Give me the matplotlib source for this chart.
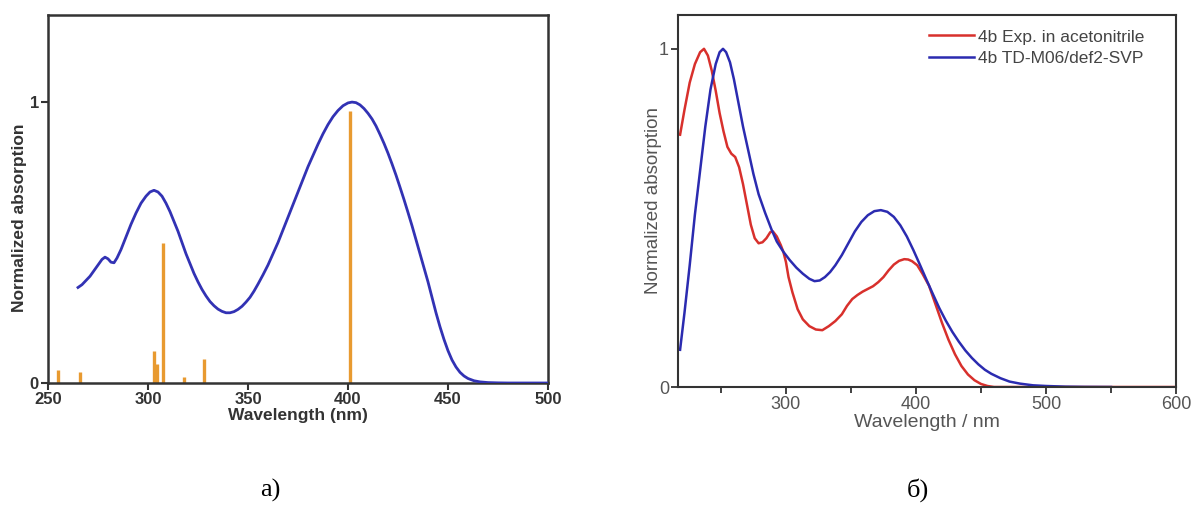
import matplotlib
matplotlib.use("Agg")
import matplotlib.pyplot as plt
from matplotlib.ticker import MultipleLocator

# ---------------- data: panel a ----------------
calc_a_wl = [265, 267, 269, 271, 273, 275, 277, 278.5, 280, 281.5, 283, 284.5, 286.5,
             289, 291.5, 294, 296.5, 299, 301, 303, 305, 307, 309, 311, 313, 315,
             317, 319, 321, 323, 325, 327, 329, 331, 333, 335, 337, 339, 341, 343,
             345, 347, 349, 351, 353, 355, 357.5, 360, 362.5, 365, 367.5, 370, 372.5,
             375, 377.5, 380, 382.5, 385, 387.5, 390, 392.5, 395, 397.5, 400, 402,
             404, 406, 408, 410, 412, 414, 416, 418, 420, 422, 424, 426, 428, 430,
             432, 434, 436, 438, 440, 442, 444, 446, 448, 450, 452, 454, 456, 458,
             460, 463, 466, 470, 475, 480, 500]
calc_a_abs = [0.34, 0.35, 0.365, 0.38, 0.40, 0.42, 0.44, 0.448, 0.442, 0.43, 0.428,
              0.445, 0.475, 0.52, 0.565, 0.605, 0.64, 0.665, 0.68, 0.686, 0.68,
              0.665, 0.64, 0.61, 0.575, 0.54, 0.50, 0.46, 0.425, 0.39, 0.36, 0.333,
              0.31, 0.29, 0.275, 0.263, 0.255, 0.25, 0.25, 0.254, 0.262, 0.273,
              0.288, 0.305, 0.327, 0.352, 0.385, 0.42, 0.46, 0.50, 0.545, 0.59,
              0.635, 0.68, 0.725, 0.77, 0.81, 0.85, 0.887, 0.92, 0.948, 0.97, 0.987,
              0.997, 1.0, 0.998, 0.99, 0.977, 0.96, 0.94, 0.915, 0.885, 0.853, 0.818,
              0.78, 0.74, 0.697, 0.653, 0.607, 0.56, 0.51, 0.46, 0.41, 0.36, 0.305,
              0.25, 0.20, 0.155, 0.115, 0.082, 0.057, 0.038, 0.025, 0.016, 0.008,
              0.004, 0.0015, 0.0005, 0.0, 0.0]
stick_wl = [255, 266, 303, 304.5, 307.5, 318, 328, 401]
stick_f = [0.045, 0.04, 0.114, 0.068, 0.50, 0.02, 0.085, 0.968]

# ---------------- data: panel b ----------------
exp_wl = [218.6, 222, 226, 230, 234, 237, 240, 243, 246, 249, 252, 255, 258, 261,
          264, 267, 270, 273, 276, 279, 282, 285, 288, 290, 293, 296, 298, 300, 302,
          305, 309, 313, 318, 323, 328, 333, 338, 343, 347, 351, 355, 359, 363, 367,
          371, 375, 379, 383, 387, 391, 394, 397, 401, 405, 410, 415, 420, 425, 430,
          435, 440, 445, 450, 455, 460, 600]
exp_abs = [0.746, 0.82, 0.90, 0.955, 0.99, 1.0, 0.98, 0.935, 0.876, 0.81, 0.756,
           0.71, 0.69, 0.68, 0.65, 0.60, 0.54, 0.48, 0.44, 0.425, 0.428, 0.44, 0.458,
           0.46, 0.445, 0.42, 0.40, 0.37, 0.325, 0.28, 0.23, 0.20, 0.18, 0.17, 0.168,
           0.18, 0.195, 0.215, 0.24, 0.26, 0.272, 0.282, 0.29, 0.298, 0.31, 0.325,
           0.345, 0.362, 0.373, 0.378, 0.377, 0.372, 0.36, 0.335, 0.30, 0.245, 0.19,
           0.14, 0.097, 0.062, 0.037, 0.02, 0.009, 0.003, 0.0, 0.0]
td_wl = [218.6, 222, 226, 230, 234, 238, 242, 246, 249, 251.6, 254, 257, 260, 263,
         267, 271, 275, 279, 284, 289, 293, 298, 303, 308, 313, 318, 322, 326, 330,
         334, 338, 343, 348, 353, 358, 363, 368, 373, 378, 383, 388, 393, 398, 403,
         408, 413, 418, 423, 428, 433, 438, 443, 448, 453, 458, 465, 472, 480, 490,
         500, 515, 530, 550]
td_abs = [0.11, 0.22, 0.36, 0.51, 0.64, 0.77, 0.88, 0.955, 0.99, 1.0, 0.99, 0.96,
          0.91, 0.85, 0.77, 0.70, 0.63, 0.57, 0.515, 0.465, 0.43, 0.40, 0.375, 0.353,
          0.335, 0.32, 0.313, 0.315, 0.325, 0.34, 0.36, 0.39, 0.425, 0.46, 0.488,
          0.508, 0.52, 0.523, 0.518, 0.503, 0.478, 0.445, 0.405, 0.362, 0.318, 0.275,
          0.233, 0.196, 0.163, 0.134, 0.108, 0.086, 0.067, 0.051, 0.039, 0.026,
          0.016, 0.01, 0.005, 0.003, 0.001, 0.0003, 0.0]
legend_labels = ["4b Exp. in acetonitrile", "4b TD-M06/def2-SVP"]
captions = ["a)", "б)"]

W, H = 1197, 508
fig = plt.figure(figsize=(W / 100, H / 100), dpi=100)
plt.rcParams['font.family'] = ['Liberation Sans', 'DejaVu Sans']

def box(x0, y0, x1, y1):
    return [x0 / W, 1 - y1 / H, (x1 - x0) / W, (y1 - y0) / H]

# ---------------- panel a ----------------
ax1 = fig.add_axes(box(48, 15, 548, 383))
ax1.vlines(stick_wl, 0, stick_f, color='#E89A30', lw=2.4, zorder=2)
ax1.plot(calc_a_wl, calc_a_abs, color='#3232B4', lw=2.0, zorder=3,
         solid_joinstyle='round')
ax1.set_xlim(250, 500)
ax1.set_ylim(0, 1.31)
ax1.xaxis.set_major_locator(MultipleLocator(50))
ax1.set_yticks([0, 1])
ax1.set_yticklabels(['0', '1'])
for s in ax1.spines.values():
    s.set_color('#333333')
    s.set_linewidth(1.8)
ax1.tick_params(direction='out', length=5, width=1.5, color='#333333',
                labelcolor='#333333', labelsize=12, pad=1.5)
for lab in ax1.get_xticklabels() + ax1.get_yticklabels():
    lab.set_fontweight('bold')
ax1.set_xlabel('Wavelength (nm)', fontsize=12.5, fontweight='bold', color='#333333', labelpad=0.5)
ax1.set_ylabel('Normalized absorption', fontsize=12.5, fontweight='bold', color='#333333')
ax1.yaxis.set_label_coords(-0.042, 0.45)

# ---------------- panel b ----------------
ax2 = fig.add_axes(box(678, 15, 1176, 387))
ax2.plot(exp_wl, exp_abs, color='#D8302C', lw=1.8, label=legend_labels[0],
         solid_joinstyle='round')
ax2.plot(td_wl, td_abs, color='#2B2BB0', lw=1.8, label=legend_labels[1],
         solid_joinstyle='round')
ax2.set_xlim(217, 600)
ax2.set_ylim(0, 1.1)
ax2.set_xticks([300, 400, 500, 600])
ax2.xaxis.set_minor_locator(MultipleLocator(50))
ax2.set_yticks([0, 1])
ax2.set_yticklabels(['0', '1'])
for s in ax2.spines.values():
    s.set_color('#333333')
    s.set_linewidth(1.5)
ax2.tick_params(which='both', direction='out', width=1.3, color='#333333',
                labelcolor='#555555', labelsize=13, pad=1.5)
ax2.tick_params(which='major', length=5)
ax2.tick_params(which='minor', length=4)
ax2.set_xlabel('Wavelength / nm', fontsize=14, color='#555555', labelpad=0.5)
ax2.set_ylabel('Normalized absorption', fontsize=13.5, color='#555555')
ax2.yaxis.set_label_coords(-0.032, 0.5)
ax2.legend(loc='upper right', bbox_to_anchor=(0.95, 0.98), frameon=False,
           fontsize=12.5, handlelength=2.6, handletextpad=0.2, labelspacing=0.35,
           borderaxespad=0.0, labelcolor='#444444')

# captions
fig.text(270 / W, 1 - 490 / H, captions[0], ha='center', va='center',
         fontsize=19, family='Liberation Serif')
fig.text(918 / W, 1 - 490 / H, captions[1], ha='center', va='center',
         fontsize=19, family='Liberation Serif')

fig.savefig('out.png', dpi=100)
